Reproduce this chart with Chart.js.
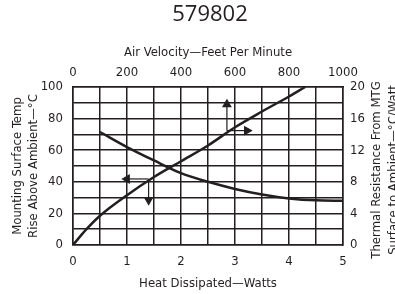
<!DOCTYPE html>
<html>
<head>
<meta charset="utf-8">
<script src="https://cdn.jsdelivr.net/npm/chart.js@4/dist/chart.umd.min.js"></script>
<style>
html, body { margin: 0; padding: 0; background: #fff; overflow: hidden; }
#wrap { width: 420px; height: 294px; }
</style>
</head>
<body>
<div id="wrap"><canvas id="chart" width="420" height="294"></canvas></div>
<script>
// heat dissipated (W) -> mounting surface temp rise (°C)
var wattsX = [0, 0.25, 0.5, 1.0, 1.5, 2.0, 2.5, 3.0, 3.5, 4.0, 4.3];
var tempRise = [0, 10, 18.5, 31.5, 43, 53, 63, 74.5, 84.5, 94, 100];

// air velocity (fpm) -> thermal resistance (°C/W)
var velocityX = [100, 200, 300, 400, 500, 600, 700, 800, 900, 1000];
var resistance = [14.3, 12.4, 10.7, 9.1, 8.0, 7.1, 6.4, 5.9, 5.65, 5.6];

// arrow annotations (watts, °C)
var arrowLeftX = [1.4, 1.0];
var arrowLeftY = [41.8, 41.8];
var arrowDownX = [1.4, 1.4];
var arrowDownY = [41.8, 28.5];
var arrowUpX = [2.85, 2.85];
var arrowUpY = [72.4, 89];
var arrowRightX = [2.85, 3.22];
var arrowRightY = [72.4, 72.4];

var font = "'Liberation Sans Narrow', 'DejaVu Sans Condensed', sans-serif";
var black = "#231f20";

function pts(xs, ys) {
    return xs.map(function (x, i) { return { x: x, y: ys[i] }; });
}

function arrow(xs, ys, rot) {
    return {
        data: pts(xs, ys),
        xAxisID: "x",
        yAxisID: "y",
        borderColor: black,
        backgroundColor: black,
        borderWidth: 1.2,
        pointStyle: "triangle",
        pointRadius: [0, 4.5],
        rotation: rot,
        tension: 0
    };
}

var rightTitle = {
    id: "rightTitle",
    afterDraw: function (chart) {
        var ctx = chart.ctx;
        var area = chart.chartArea;
        var cy = (area.top + area.bottom) / 2;
        ctx.save();
        ctx.fillStyle = black;
        ctx.font = "13px " + font;
        ctx.textAlign = "center";
        ctx.textBaseline = "middle";
        var lines = ["Thermal Resistance From MTG", "Surface to Ambient\u2014\u00b0C/Watt"];
        var xs = [377, 394];
        for (var i = 0; i < lines.length; i++) {
            ctx.save();
            ctx.translate(xs[i], cy + 4);
            ctx.rotate(-Math.PI / 2);
            ctx.fillText(lines[i], 0, 0);
            ctx.restore();
        }
        ctx.restore();
    }
};

new Chart(document.getElementById("chart"), {
    type: "line",
    data: {
        datasets: [
            {
                data: pts(wattsX, tempRise),
                xAxisID: "x",
                yAxisID: "y",
                borderColor: black,
                borderWidth: 2.5,
                pointRadius: 0,
                cubicInterpolationMode: "monotone"
            },
            {
                data: pts(velocityX, resistance),
                xAxisID: "x2",
                yAxisID: "y2",
                borderColor: black,
                borderWidth: 2.5,
                pointRadius: 0,
                cubicInterpolationMode: "monotone"
            },
            arrow(arrowLeftX, arrowLeftY, 270),
            arrow(arrowDownX, arrowDownY, 180),
            arrow(arrowUpX, arrowUpY, 0),
            arrow(arrowRightX, arrowRightY, 90)
        ]
    },
    plugins: [rightTitle],
    options: {
        responsive: false,
        animation: false,
        layout: { padding: 0 },
        plugins: {
            legend: { display: false },
            tooltip: { enabled: false },
            title: {
                display: true,
                text: "579802",
                color: black,
                font: { family: "'Open Sans', sans-serif", size: 22, weight: "normal", lineHeight: 1.2 },
                padding: { top: 2, bottom: 0 }
            }
        },
        scales: {
            x: {
                type: "linear",
                position: "bottom",
                min: 0,
                max: 5,
                ticks: {
                    stepSize: 0.5,
                    autoSkip: false,
                    maxRotation: 0,
                    padding: 9,
                    color: black,
                    font: { family: font, size: 13 },
                    callback: function (v) { return v % 1 === 0 ? v : ""; }
                },
                grid: { color: black, lineWidth: 1.5, drawTicks: false },
                border: { color: black, width: 1.5 },
                title: {
                    display: true,
                    text: "Heat Dissipated\u2014Watts",
                    color: black,
                    font: { family: font, size: 13 },
                    padding: { top: 0, bottom: 3 }
                },
                afterFit: function (s) { s.height = 49; }
            },
            x2: {
                type: "linear",
                position: "top",
                min: 0,
                max: 1000,
                ticks: {
                    stepSize: 100,
                    autoSkip: false,
                    maxRotation: 0,
                    padding: 7,
                    color: black,
                    font: { family: font, size: 13 },
                    callback: function (v) { return v % 200 === 0 ? v : ""; }
                },
                grid: { drawOnChartArea: false, drawTicks: false },
                border: { color: black, width: 1.5 },
                title: {
                    display: true,
                    text: "Air Velocity\u2014Feet Per Minute",
                    color: black,
                    font: { family: font, size: 13 },
                    padding: { top: 16, bottom: 0 }
                },
                afterFit: function (s) { s.height = 87 - 28.4; }
            },
            y: {
                type: "linear",
                position: "left",
                min: 0,
                max: 100,
                ticks: {
                    stepSize: 10,
                    autoSkip: false,
                    padding: 10,
                    color: black,
                    font: { family: font, size: 13 },
                    callback: function (v) { return v % 20 === 0 ? v : ""; }
                },
                grid: { color: black, lineWidth: 1.5, drawTicks: false },
                border: { color: black, width: 1.5 },
                title: {
                    display: true,
                    text: ["Mounting Surface Temp", "Rise Above Ambient\u2014\u00b0C"],
                    color: black,
                    font: { family: font, size: 13 },
                    padding: { top: 10, bottom: 0 }
                },
                afterFit: function (s) { s.width = 73; }
            },
            y2: {
                type: "linear",
                position: "right",
                min: 0,
                max: 20,
                ticks: {
                    stepSize: 2,
                    autoSkip: false,
                    padding: 7,
                    color: black,
                    font: { family: font, size: 13 },
                    callback: function (v) { return v % 4 === 0 ? v : ""; }
                },
                grid: { drawOnChartArea: false, drawTicks: false },
                border: { color: black, width: 1.5 },
                afterFit: function (s) { s.width = 420 - 343; }
            }
        }
    }
});
</script>
</body>
</html>
